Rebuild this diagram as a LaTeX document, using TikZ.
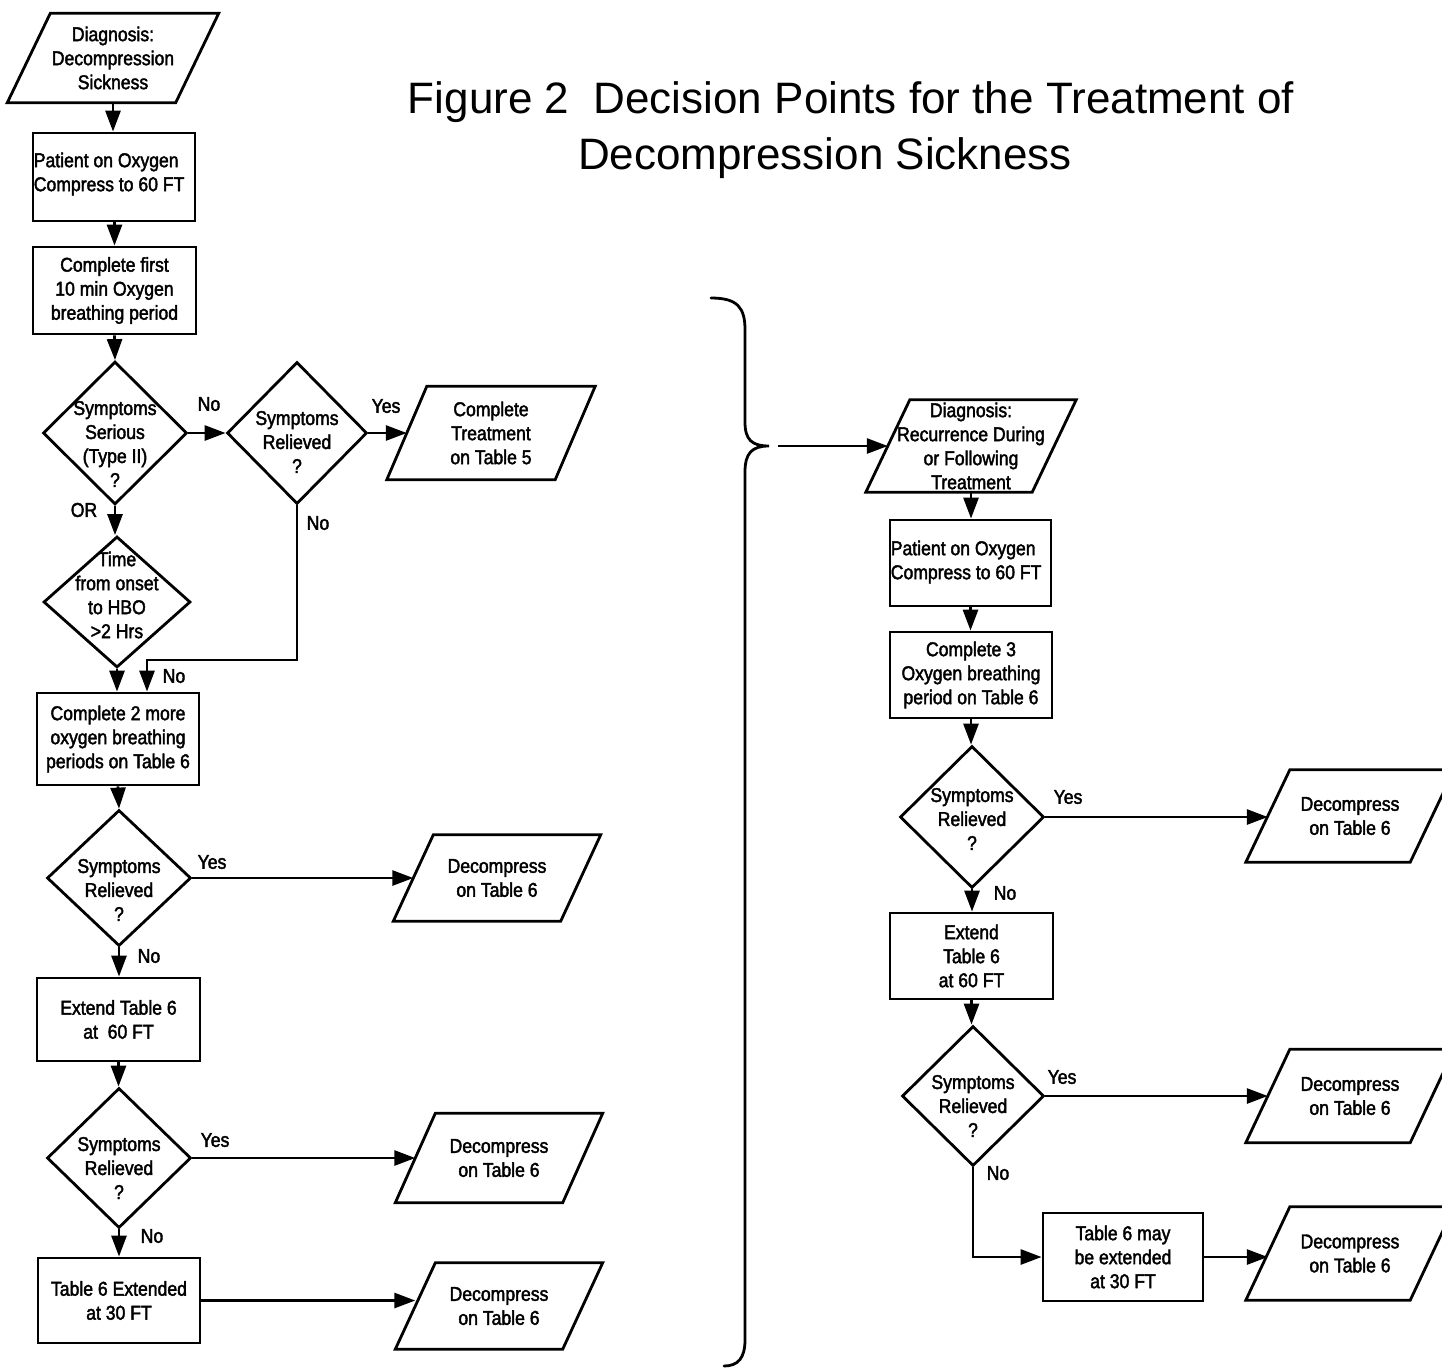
\documentclass[tikz,border=0pt]{standalone}
\usepackage{fontspec}
\setmainfont{Liberation Sans}
\newfontfamily\boxfont[FakeStretch=0.88,FakeBold=2]{Liberation Sans}
\usetikzlibrary{shapes.geometric,arrows.meta,calc}
\newcommand\parashape[2]{\draw[shp] ([xshift=-#2]#1.south west) -- ([xshift=-#2]#1.south east) -- ([xshift=#2]#1.north east) -- ([xshift=#2]#1.north west) -- cycle;}
\begin{document}
\begin{tikzpicture}[x=1pt,y=-1pt,
  txt/.style={font=\boxfont\fontsize{20}{24}\selectfont, align=center},
  shp/.style={line width=2.8pt, line join=miter},
  box/.style={draw, shp, rectangle, inner sep=0pt, txt},
  dia/.style={draw, shp, diamond, inner sep=0pt},
  para/.style={inner sep=0pt, txt},
  arr/.style={line width=2.8pt, -{Triangle[length=21pt,width=15pt]}},
  lab/.style={txt, inner sep=0pt},
  dl/.style={txt, inner sep=0pt},
  ll/.style={txt, align=left, inner sep=0pt, anchor=west},
]
\fill[white] (0,0) rectangle (1442,1368);
\useasboundingbox (0,0) rectangle (1442,1368);
\clip (0,0) rectangle (1442,1368);

% title
\node[font=\fontsize{44}{52}\selectfont, inner sep=0pt] (T1) at (851,102) {Figure 2\ \ Decision Points for the Treatment of};
\node[font=\fontsize{44}{52}\selectfont, inner sep=0pt] (T2) at (825,158) {Decompression Sickness};

% ---------- left column ----------
\node[para, minimum width=168pt, minimum height=89pt] (P0) at (113,58) {Diagnosis:\\Decompression\\Sickness};
\parashape{P0}{21.5pt}
\node[box, minimum width=162pt, minimum height=88pt,
  label={[ll, xshift=2pt, yshift=3pt]west:{Patient on Oxygen\\Compress to 60 FT}}] (B1) at (114,177) {};
\node[box, minimum width=163pt, minimum height=87pt] (B2) at (114.5,290.5) {Complete first\\10 min Oxygen\\breathing period};
\node[dia, minimum width=144pt, minimum height=143pt,
  label={[dl, yshift=-11pt]center:{Symptoms\\Serious\\(Type II)\\?}}] (D1) at (115,433) {};
\node[dia, minimum width=140pt, minimum height=142pt,
  label={[dl, yshift=-9pt]center:{Symptoms\\Relieved\\?}}] (D2) at (297,433) {};
\node[para, minimum width=168pt, minimum height=93pt] (P1) at (491,433) {Complete\\Treatment\\on Table 5};
\parashape{P1}{20pt}
\node[dia, minimum width=147pt, minimum height=131pt,
  label={[dl, yshift=7pt]center:{Time\\from onset\\to HBO\\>2 Hrs}}] (D3) at (117,602) {};
\node[box, minimum width=162pt, minimum height=92pt] (B3) at (118,739) {Complete 2 more\\oxygen breathing\\periods on Table 6};
\node[dia, minimum width=144pt, minimum height=136pt,
  label={[dl, yshift=-12pt]center:{Symptoms\\Relieved\\?}}] (D4) at (119,878) {};
\node[para, minimum width=167pt, minimum height=86pt] (P2) at (497,878) {Decompress\\on Table 6};
\parashape{P2}{20pt}
\node[box, minimum width=163pt, minimum height=83pt] (B4) at (118.5,1019.5) {Extend Table 6\\at\ \ 60 FT};
\node[dia, minimum width=144pt, minimum height=140pt,
  label={[dl, yshift=-10pt]center:{Symptoms\\Relieved\\?}}] (D5) at (119,1158) {};
\node[para, minimum width=167pt, minimum height=89pt] (P3) at (499,1158) {Decompress\\on Table 6};
\parashape{P3}{20pt}
\node[box, minimum width=162pt, minimum height=85pt] (B5) at (119,1300.5) {Table 6 Extended\\at 30 FT};
\node[para, minimum width=167pt, minimum height=86pt] (P4) at (499,1306) {Decompress\\on Table 6};
\parashape{P4}{20pt}

% ---------- right column ----------
\node[para, minimum width=166pt, minimum height=92pt] (R0) at (971,446) {Diagnosis:\\Recurrence During\\or Following\\Treatment};
\parashape{R0}{22pt}
\node[box, minimum width=161pt, minimum height=86pt,
  label={[ll, xshift=2pt, yshift=1pt]west:{Patient on Oxygen\\Compress to 60 FT}}] (R1) at (970.5,563) {};
\node[box, minimum width=162pt, minimum height=86pt] (R2) at (971,675) {Complete 3\\Oxygen breathing\\period on Table 6};
\node[dia, minimum width=144pt, minimum height=142pt,
  label={[dl, yshift=-2pt]center:{Symptoms\\Relieved\\?}}] (RD1) at (972,817) {};
\node[para, minimum width=164pt, minimum height=92pt] (RP1) at (1350,816) {Decompress\\on Table 6};
\parashape{RP1}{22pt}
\node[box, minimum width=163pt, minimum height=86pt] (R3) at (971.5,956) {Extend\\Table 6\\at 60 FT};
\node[dia, minimum width=142pt, minimum height=140pt,
  label={[dl, yshift=-10pt]center:{Symptoms\\Relieved\\?}}] (RD2) at (973,1096) {};
\node[para, minimum width=164pt, minimum height=93pt] (RP2) at (1350,1096) {Decompress\\on Table 6};
\parashape{RP2}{22pt}
\node[box, minimum width=160pt, minimum height=88pt] (R4) at (1123,1257) {Table 6 may\\be extended\\at 30 FT};
\node[para, minimum width=164pt, minimum height=93pt] (RP3) at (1350,1253.5) {Decompress\\on Table 6};
\parashape{RP3}{22pt}

% brace
\draw[shp, line cap=round] (711,298) .. controls (738,298) and (745,308) .. (745,330) -- (745,422)
  .. controls (745,440) and (752,446) .. (769,446)
  .. controls (752,446) and (745,453) .. (745,472) -- (745,1340)
  .. controls (745,1358) and (738,1366) .. (724,1366);
\coordinate (BT) at (778,446);

% labels
\node[lab] (l1) at (209,404) {No};
\node[lab] (l2) at (386,406) {Yes};
\node[lab] (l3) at (318,523) {No};
\node[lab] (l4) at (84,510) {OR};
\node[lab] (l5) at (174,676) {No};
\node[lab] (l6) at (212,862) {Yes};
\node[lab] (l7) at (149,956) {No};
\node[lab] (l8) at (215,1140) {Yes};
\node[lab] (l9) at (152,1236) {No};
\node[lab] (l10) at (1068,797) {Yes};
\node[lab] (l11) at (1005,893) {No};
\node[lab] (l12) at (1062,1077) {Yes};
\node[lab] (l13) at (998,1173) {No};

% connectors left
\draw[arr] (P0.south) -- (P0.south |- B1.north);
\draw[arr] (B1.south -| B2.north) -- (B2.north);
\draw[arr] (B2.south) -- (D1.north);
\draw[arr] (D1.east) -- (D2.west);
\draw[arr] (D2.east) -- (P1.west);
\coordinate (J1) at (147,660);
\draw[arr] (D2.south) |- (J1) -- (J1 |- B3.north);
\draw[arr] (D1.south) -- (D1.south |- D3.north);
\draw[arr] (D3.south) -- (D3.south |- B3.north);
\draw[arr] (B3.south) -- (D4.north);
\draw[arr] (D4.east) -- (D4.east -| P2.west);
\draw[arr] (D4.south) -- (D4.south |- B4.north);
\draw[arr] (B4.south) -- (B4.south |- D5.north);
\draw[arr] (D5.east) -- (D5.east -| P3.west);
\draw[arr] (D5.south) -- (D5.south |- B5.north);
\draw[arr] (B5.east) -- (B5.east -| P4.west);

% connectors right
\draw[arr] (BT) -- (R0.west);
\draw[arr] (R0.south) -- (R0.south |- R1.north);
\draw[arr] (R1.south) -- (R1.south |- R2.north);
\draw[arr] (R2.south) -- (R2.south |- RD1.north);
\draw[arr] (RD1.east) -- (RD1.east -| RP1.west);
\draw[arr] (RD1.south) -- (RD1.south |- R3.north);
\draw[arr] (R3.south) -- (R3.south |- RD2.north);
\draw[arr] (RD2.east) -- (RD2.east -| RP2.west);
\draw[arr] (RD2.south) |- (R4.west);
\draw[arr] (R4.east) -- (R4.east -| RP3.west);
\end{tikzpicture}
\end{document}
